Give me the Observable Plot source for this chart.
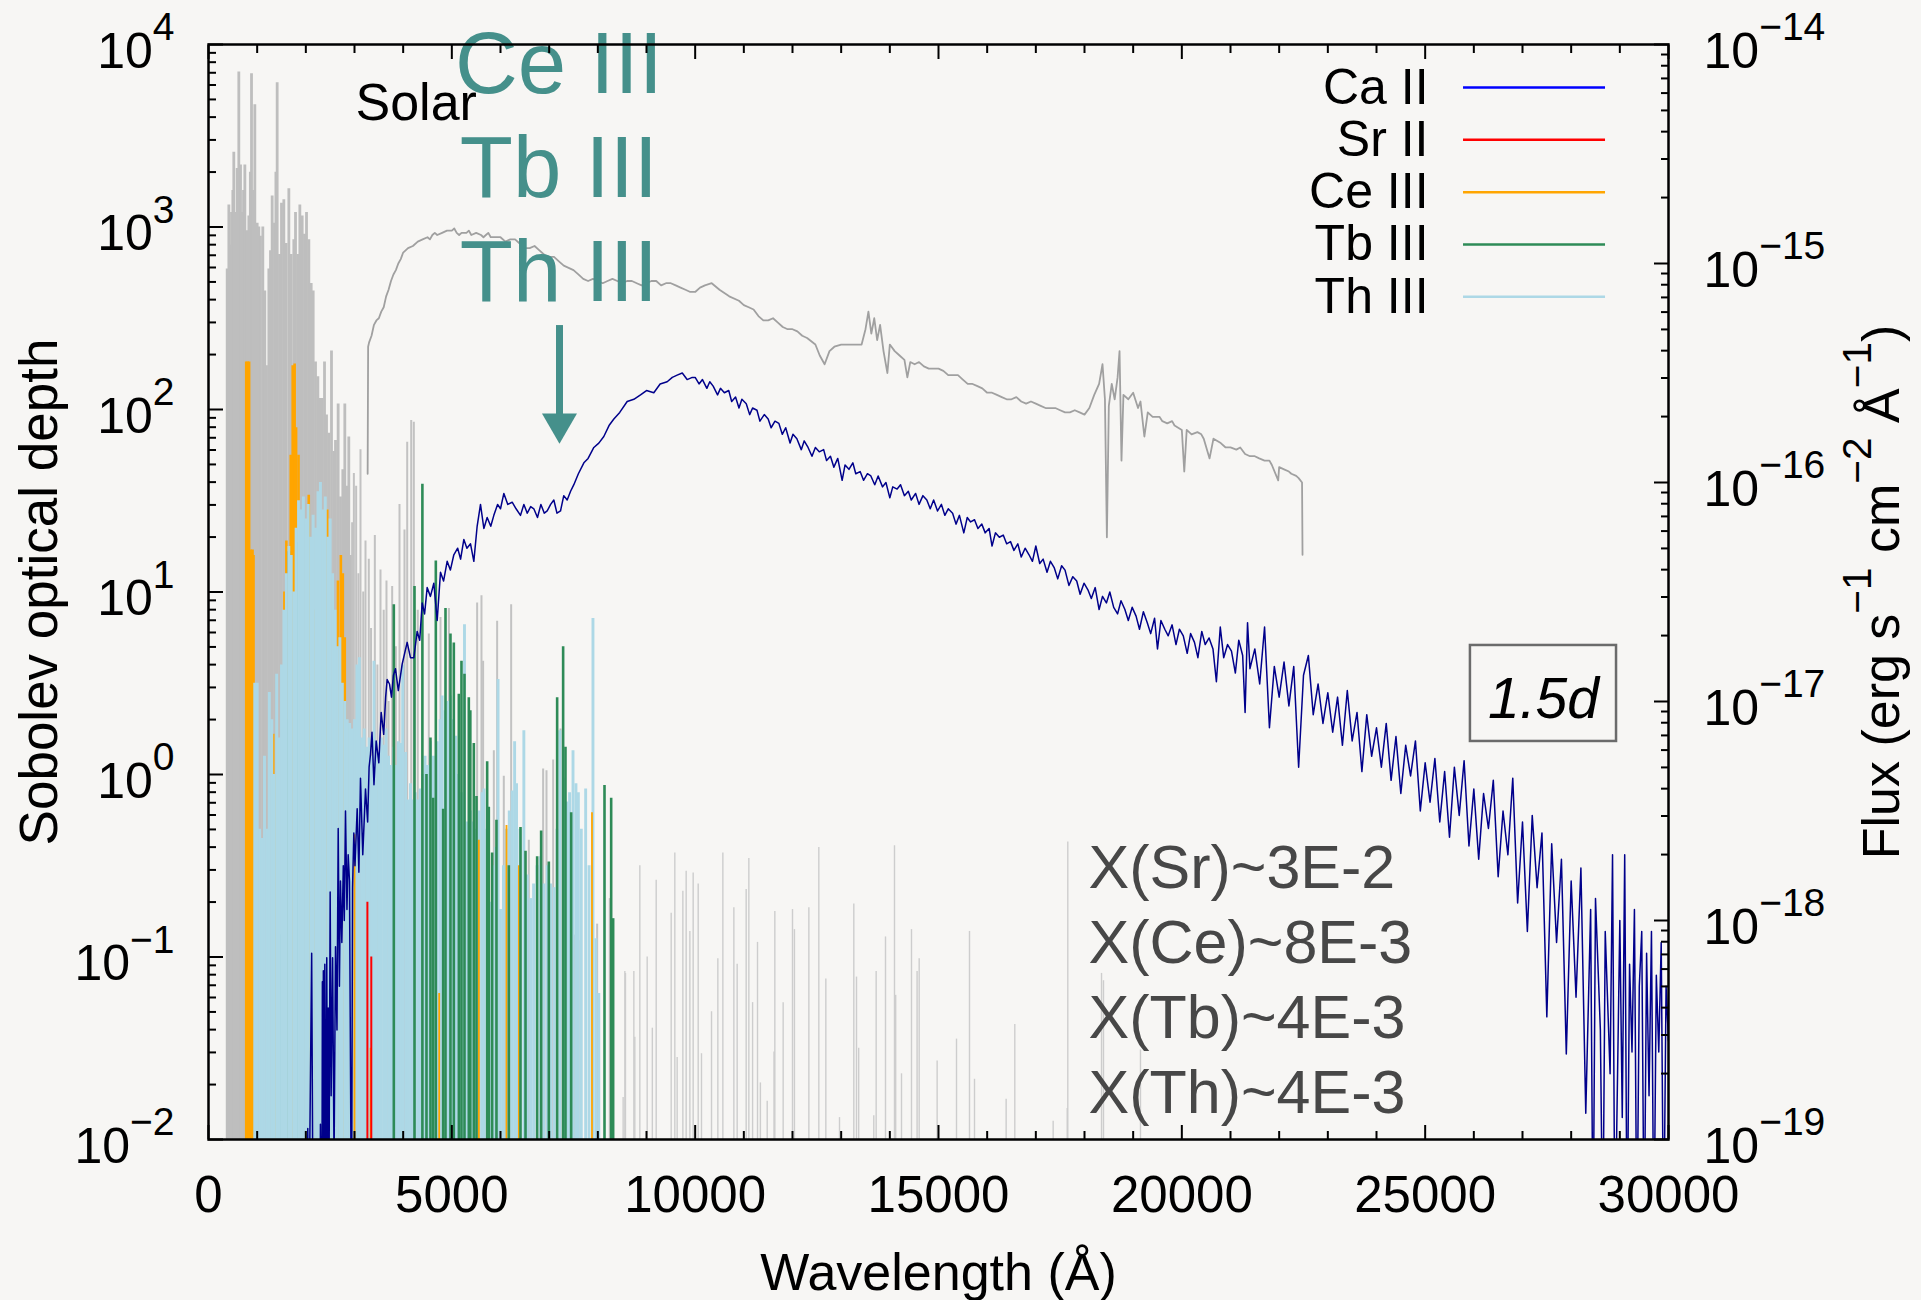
<!DOCTYPE html>
<html><head><meta charset="utf-8">
<script src="https://cdn.jsdelivr.net/npm/d3@7"></script>
<script src="https://cdn.jsdelivr.net/npm/@observablehq/plot@0.6"></script>
<style>
html,body{margin:0;padding:0;background:#f7f6f4;}
#chart{width:1921px;height:1300px;overflow:hidden;}
</style></head><body><div id="chart"></div>
<script>
// ---------- tick values ----------
const xTicksMajor = [0, 5000, 10000, 15000, 20000, 25000, 30000];
const xTicksMinor = d3.range(0, 30001, 1000).filter(d => d % 5000);
const tauExponents = [-2, -1, 0, 1, 2, 3, 4];
const fluxExponents = [-19, -18, -17, -16, -15, -14];

// ---------- Sobolev optical depth lines: [wavelength Å, log10 tau] ----------
const solarDense = [[384,2.77],[418,3.12],[450,2.9],[473,3.08],[500,3.2],[520,3.41],[555,3.08],[589,3.32],[623,3.85],[658,3.34],[692,3.08],[720,3.2],[747,3.34],[795,2.98],[829,3.06],[860,3.3],[884,3.84],[918,3.20],[952,3.67],[1000,3.02],[1034,3.00],[1068,2.95],[1116,3.00],[1157,2.65],[1192,2.24],[1240,2.77],[1274,2.87],[1308,3.17],[1356,3.02],[1385,3.3],[1411,3.79],[1459,2.85],[1500,3.13],[1548,3.15],[1596,2.91],[1651,3.21],[1699,2.85],[1753,2.93],[1788,3.08],[1836,2.85],[1877,3.12],[1925,3.06],[1973,2.96],[2014,3.08],[2062,2.93],[2110,2.69],[2151,2.65],[2199,2.26],[2247,2.18],[2288,2.06],[2336,2.06],[2384,2.26],[2425,1.97],[2473,1.87],[2527,2.32],[2575,1.77],[2610,1.83],[2664,2.03],[2712,1.52],[2760,1.67],[2801,2.03],[2849,1.58],[2883,1.85],[2920,1.2]];
const solarMid = [[2952,1.38],[2987,1.65],[3034,1.58],[3080,1.1],[3123,1.78],[3180,1.0],[3226,1.28],[3294,1.18],[3340,0.8],[3418,1.31],[3470,0.6],[3534,1.12],[3600,0.9],[3657,1.06],[3700,0.4],[3774,1.03],[3850,0.7],[3925,1.48],[4027,1.34],[4083,1.82],[4165,1.94],[4219,1.93],[4300,0.9],[4527,0.77],[4767,0.86],[4940,0.91],[5520,0.94],[5609,0.98],[5643,0.62],[5863,0.13],[5931,0.84],[6068,-0.01],[6219,0.93],[6582,-0.36],[6876,0.03],[6945,0.02],[7082,0.08],[7233,0.25],[7507,-0.88],[7643,-0.91],[7986,-0.82],[8246,-0.68]];
const solarFar = [[8520,-1.77],[8555,-1.08],[8568,-1.09],[8740,-1.08],[8760,-1.44],[8863,-0.50],[9014,-1.00],[9120,-1.39],[9199,-0.58],[9507,-0.76],[9582,-0.43],[9630,-1.55],[9747,-0.64],[9815,-0.53],[9891,-0.86],[9959,-0.54],[10062,-0.60],[10130,-1.53],[10336,-1.30],[10466,-1.01],[10569,-0.43],[10795,-0.73],[10863,-1.04],[11048,-0.63],[11103,-0.46],[11180,-1.25],[11281,-0.92],[11340,-1.69],[11480,-1.79],[11620,-1.52],[11637,-0.75],[11808,-1.25],[12000,-0.74],[12040,-0.85],[12336,-0.73],[12541,-0.40],[12685,-1.12],[12966,-1.88],[13260,-0.71],[13315,-1.11],[13360,-1.50],[13670,-1.87],[13719,-1.08],[13911,-0.89],[14096,-0.39],[14120,-1.21],[14240,-1.64],[14445,-0.85],[14560,-1.08],[14603,-1.01],[14972,-1.57],[15370,-1.45],[15637,-0.86],[15740,-1.67],[16390,-1.78],[16568,-1.37],[17356,-1.90],[17645,-1.83],[17657,-0.37],[18350,-1.09],[18390,-1.13],[19150,-1.51]];
const caLines = [];
const srLines = [[3265,-0.70],[3345,-1.00]];
const ceLines = [[775,2.26],[805,2.26],[835,2.26],[870,1.23],[905,1.23],[925,1.2],[1330,0.22],[1380,0.0],[1440,-0.3],[1560,1.0],[1600,1.28],[1640,1.25],[1690,1.75],[1730,2.24],[1770,2.25],[1800,1.9],[1850,1.75],[1880,1.4],[2060,1.53],[2110,1.15],[2180,0.9],[2230,1.1],[2400,1.3],[2440,1.45],[2480,1.22],[2660,1.06],[2720,1.2],[2760,1.1],[2800,0.75],[3000,-0.33],[3330,-1.5],[4740,-1.2],[5555,-0.36],[6123,-0.28],[6377,-0.5],[7880,-0.21]];
const tbLines = [[1480,-0.88],[1600,0.3],[1650,1.22],[1830,1.27],[2030,1.29],[3808,0.93],[4233,1.03],[4395,1.59],[4479,0.00],[4561,0.20],[4616,-0.13],[4671,1.17],[4822,-0.19],[4870,0.91],[4972,0.77],[5041,0.72],[5144,0.44],[5198,0.62],[5260,0.55],[5349,0.42],[5380,0.35],[5452,0.17],[5507,-0.12],[5726,0.07],[5760,-0.18],[5828,-0.43],[5917,-0.25],[6171,-0.50],[6411,-0.29],[6514,-0.42],[6753,-0.45],[6835,-0.31],[6993,-0.48],[7164,0.42],[7287,0.70],[7335,0.15],[7452,-0.21],[8137,-0.06],[8274,-0.13],[8315,-0.79]];
const thLines = [[950,0.50],[1000,0.50],[1050,-0.30],[1100,-0.35],[1150,0.10],[1200,-0.30],[1250,0.45],[1300,0.30],[1350,0.00],[1400,0.55],[1450,0.20],[1500,0.60],[1550,0.90],[1600,1.10],[1650,1.25],[1700,1.20],[1750,1.00],[1800,1.35],[1850,1.50],[1900,1.45],[1950,1.52],[2000,1.40],[2050,1.48],[2100,1.30],[2150,1.42],[2200,1.35],[2250,1.55],[2300,1.60],[2350,1.45],[2400,1.52],[2450,1.30],[2500,1.40],[2550,1.10],[2600,0.90],[2650,0.70],[2700,0.75],[2750,0.50],[2800,0.40],[2850,0.30],[2900,0.28],[2950,0.25],[3000,0.30],[3050,0.60],[3100,0.64],[3150,0.20],[3200,0.25],[3250,0.15],[3300,0.20],[3350,0.10],[3400,0.62],[3450,0.18],[3500,0.12],[3550,0.20],[3600,0.16],[3650,0.25],[3700,0.10],[3750,0.05],[3800,0.15],[3850,0.05],[3900,0.18],[3950,0.17],[3990,0.60],[4050,0.12],[4100,-0.14],[4150,-0.05],[4200,-0.14],[4250,-0.10],[4300,-0.14],[4350,-0.08],[4400,0.00],[4450,0.10],[4500,0.05],[4560,0.18],[4620,0.10],[4700,0.18],[4760,0.30],[4800,0.43],[4860,0.35],[4920,0.40],[4970,0.43],[5030,0.30],[5080,0.21],[5140,0.00],[5200,-0.10],[5260,0.82],[5320,-0.26],[5380,-0.20],[5440,-0.26],[5500,-0.30],[5560,-0.20],[5620,-0.10],[5660,-0.08],[5720,-0.30],[5790,-0.70],[5850,-0.50],[5900,-0.40],[5950,0.52],[6000,-0.74],[6060,-0.50],[6120,-0.30],[6180,-0.20],[6240,-0.09],[6290,0.18],[6330,-0.05],[6400,-0.30],[6480,0.24],[6550,-0.55],[6620,-0.68],[6680,-0.60],[6750,-0.50],[6820,-0.45],[6890,-0.60],[6960,-0.50],[7030,-0.60],[7100,-0.62],[7160,-0.30],[7220,0.24],[7300,-0.02],[7360,-0.15],[7420,-0.10],[7490,0.13],[7550,-0.05],[7600,-0.10],[7660,-0.30],[7750,-0.08],[7820,-0.50],[7900,0.855],[7960,-0.90],[8020,-1.20]];

// ---------- spectra (right axis): [wavelength Å, log10 flux erg s^-1 cm^-2 Å^-1] ----------
const modelFlux = [[1980,-19.5],[2040,-18.95],[2060,-19.5],[2120,-18.15],[2150,-19.5],[2290,-19.5],[2300,-18.93],[2330,-19.5],[2340,-18.28],[2350,-19.5],[2360,-18.23],[2375,-19.3],[2390,-18.2],[2405,-19.4],[2430,-18.17],[2445,-19.2],[2460,-18.4],[2480,-19.0],[2500,-17.87],[2520,-18.8],[2550,-18.17],[2580,-19.1],[2610,-18.12],[2640,-18.5],[2665,-17.58],[2690,-18.3],[2712,-17.82],[2740,-18.1],[2770,-17.75],[2790,-18.0],[2815,-17.50],[2845,-17.95],[2870,-17.70],[2897,-17.82],[2938,-19.5],[2960,-17.85],[2986,-17.60],[3010,-17.75],[3055,-17.49],[3090,-17.78],[3123,-17.35],[3170,-17.70],[3226,-17.40],[3270,-17.55],[3300,-17.30],[3329,-17.24],[3360,-17.14],[3400,-17.38],[3445,-17.18],[3500,-17.28],[3548,-17.05],[3600,-17.15],[3640,-16.98],[3671,-16.90],[3719,-16.92],[3760,-16.98],[3800,-16.88],[3842,-16.85],[3900,-16.95],[3979,-16.83],
[4082,-16.73],[4150,-16.80],[4219,-16.80],[4288,-16.68],[4340,-16.72],[4391,-16.55],[4440,-16.60],[4493,-16.48],[4560,-16.52],[4630,-16.46],[4699,-16.63],[4767,-16.41],[4830,-16.45],[4904,-16.36],[4970,-16.40],[5041,-16.33],[5120,-16.30],[5180,-16.35],[5247,-16.26],[5310,-16.30],[5384,-16.28],[5452,-16.36],[5520,-16.20],[5589,-16.10],[5658,-16.21],[5726,-16.16],[5800,-16.20],[5863,-16.15],[5940,-16.10],[6000,-16.12],[6069,-16.05],[6150,-16.10],[6240,-16.09],[6320,-16.12],[6411,-16.15],[6480,-16.10],[6550,-16.14],[6620,-16.11],[6685,-16.12],[6760,-16.16],[6830,-16.10],[6900,-16.14],[6959,-16.13],[7030,-16.10],[7096,-16.08],[7160,-16.14],[7233,-16.13],[7300,-16.06],[7370,-16.08],[7440,-16.04],[7507,-16.01],[7600,-15.96],[7713,-15.91],[7800,-15.89],[7918,-15.84],[8020,-15.82],[8123,-15.79],[8230,-15.74],[8329,-15.71],[8450,-15.68],[8603,-15.63],[8740,-15.62],[8877,-15.60],[9000,-15.58],[9150,-15.59],[9280,-15.55],[9425,-15.54],[9530,-15.52],[9630,-15.51],[9735,-15.50],[9835,-15.53],[9940,-15.52],
[10000,-15.52],[10080,-15.55],[10150,-15.53],[10240,-15.57],[10300,-15.54],[10370,-15.56],[10460,-15.60],[10520,-15.57],[10600,-15.59],[10690,-15.58],[10750,-15.63],[10830,-15.61],[10900,-15.66],[10960,-15.62],[11050,-15.64],[11120,-15.69],[11180,-15.66],[11270,-15.67],[11330,-15.72],[11420,-15.69],[11500,-15.71],[11560,-15.75],[11640,-15.72],[11720,-15.73],[11790,-15.78],[11860,-15.75],[11950,-15.82],[12010,-15.78],[12090,-15.80],[12180,-15.85],[12240,-15.81],[12320,-15.84],[12400,-15.88],[12470,-15.84],[12550,-15.86],[12640,-15.85],[12700,-15.90],[12780,-15.88],[12850,-15.93],[12930,-15.89],[13020,-15.99],[13080,-15.92],[13160,-15.94],[13240,-15.91],[13300,-15.96],[13390,-15.95],[13460,-15.99],[13540,-15.96],[13610,-15.97],[13690,-16.01],[13760,-15.97],[13850,-16.02],[13920,-16.00],[14000,-16.07],[14060,-16.02],[14150,-16.03],[14220,-16.01],[14300,-16.06],[14380,-16.04],[14440,-16.08],[14530,-16.05],[14600,-16.10],[14680,-16.06],[14760,-16.08],[14830,-16.12],[14900,-16.08],[14980,-16.13],[15060,-16.10],[15130,-16.15],[15200,-16.12],[15290,-16.14],[15360,-16.19],[15430,-16.15],[15520,-16.23],[15590,-16.16],[15660,-16.18],[15740,-16.17],[15810,-16.21],[15890,-16.19],[15960,-16.23],[16040,-16.21],[16100,-16.29],[16170,-16.23],[16250,-16.25],[16330,-16.24],[16400,-16.28],[16480,-16.27],[16550,-16.31],[16630,-16.28],[16700,-16.34],[16780,-16.30],[16860,-16.33],[16930,-16.36],[17000,-16.29],[17080,-16.37],[17150,-16.35],[17230,-16.41],[17300,-16.36],[17380,-16.39],[17450,-16.44],[17530,-16.38],[17600,-16.40],[17680,-16.47],[17760,-16.43],[17840,-16.45],[17910,-16.51],[17990,-16.46],[18070,-16.49],[18140,-16.53],[18220,-16.48],[18300,-16.58],[18370,-16.52],[18450,-16.55],[18520,-16.50],[18600,-16.57],[18680,-16.60],[18750,-16.54],[18830,-16.58],[18900,-16.63],[18980,-16.57],[19060,-16.61],[19130,-16.67],[19210,-16.59],[19290,-16.64],[19360,-16.69],[19440,-16.62],[19500,-16.76],[19570,-16.63],[19650,-16.67],[19720,-16.70],[19800,-16.65],[19880,-16.74],[19950,-16.67],[20030,-16.70],[20110,-16.78],[20180,-16.69],[20260,-16.73],[20330,-16.80],[20410,-16.68],[20480,-16.74],[20560,-16.71],[20640,-16.76],[20710,-16.91],[20790,-16.66],[20860,-16.80],[20940,-16.74],[21020,-16.77],[21100,-16.87],[21170,-16.72],[21250,-16.79],[21300,-17.05],[21350,-16.64],[21400,-16.85],[21500,-16.76],[21600,-16.92],[21700,-16.66],[21800,-17.12],[21900,-16.84],[22000,-16.98],[22100,-16.82],[22200,-17.02],[22300,-16.84],[22400,-17.30],[22500,-16.88],[22600,-16.79],[22700,-17.06],[22800,-16.92],[22900,-17.10],[23000,-16.96],[23100,-17.14],[23200,-16.98],[23300,-17.20],[23400,-16.95],[23500,-17.18],[23600,-17.05],[23700,-17.32],[23800,-17.06],[23900,-17.25],[24000,-17.12],[24100,-17.30],[24200,-17.10],[24300,-17.36],[24400,-17.16],[24500,-17.42],[24600,-17.20],[24700,-17.34],[24800,-17.18],[24900,-17.50],[25000,-17.28],[25100,-17.46],[25200,-17.26],[25300,-17.55],[25400,-17.32],[25500,-17.62],[25600,-17.30],[25700,-17.52],[25800,-17.27],[25900,-17.66],[26000,-17.40],[26100,-17.72],[26200,-17.42],[26300,-17.58],[26400,-17.36],[26500,-17.80],[26600,-17.50],[26700,-17.70],[26800,-17.35],[26900,-17.92],[27000,-17.55],[27100,-18.05],[27200,-17.52],[27300,-17.85],[27400,-17.60],[27500,-18.44],[27600,-17.65],[27700,-18.10],[27800,-17.72],[27900,-18.61],[28000,-17.82],[28100,-18.35],[28200,-17.76],[28300,-18.88],[28400,-17.95],[28450,-19.5],[28500,-17.90],[28600,-18.50],[28650,-19.5],[28700,-18.05],[28800,-18.70],[28850,-17.70],[28900,-19.5],[29000,-18.00],[29050,-18.90],[29100,-17.70],[29150,-19.5],[29200,-18.20],[29250,-18.60],[29300,-17.95],[29350,-19.5],[29400,-18.30],[29450,-18.05],[29500,-19.5],[29550,-18.15],[29600,-18.80],[29650,-18.05],[29700,-19.5],[29750,-18.25],[29800,-18.60],[29850,-18.10],[29900,-19.5],[29950,-18.30],[30000,-18.55]];

const solarFlux = [[3270,-15.96],[3280,-15.38],[3300,-15.36],[3350,-15.33],[3400,-15.28],[3450,-15.26],[3500,-15.25],[3550,-15.22],[3600,-15.20],[3650,-15.15],[3700,-15.12],[3750,-15.08],[3800,-15.05],[3850,-15.03],[3900,-15.00],[3950,-14.98],[4000,-14.95],[4100,-14.93],[4200,-14.92],[4300,-14.90],[4400,-14.89],[4500,-14.88],[4550,-14.89],[4600,-14.87],[4650,-14.86],[4700,-14.87],[4800,-14.86],[4900,-14.85],[5000,-14.85],[5050,-14.84],[5100,-14.86],[5150,-14.87],[5200,-14.86],[5300,-14.86],[5350,-14.85],[5400,-14.87],[5500,-14.86],[5600,-14.87],[5650,-14.88],[5700,-14.87],[5750,-14.86],[5800,-14.88],[5900,-14.88],[6000,-14.88],[6100,-14.90],[6200,-14.89],[6300,-14.89],[6400,-14.91],[6500,-14.93],[6600,-14.93],[6700,-14.92],[6800,-14.94],[6900,-14.96],[7000,-14.97],[7100,-14.97],[7200,-14.99],[7300,-15.01],[7400,-15.02],[7500,-15.03],[7600,-15.05],[7700,-15.07],[7800,-15.08],[7900,-15.07],[8000,-15.08],[8100,-15.09],[8200,-15.08],[8300,-15.07],[8400,-15.08],[8500,-15.09],[8600,-15.08],[8700,-15.08],[8800,-15.09],[8900,-15.10],[9000,-15.09],[9100,-15.08],[9200,-15.08],[9300,-15.10],[9400,-15.09],[9500,-15.09],[9600,-15.10],[9700,-15.11],[9800,-15.12],[9900,-15.13],[10000,-15.13],[10100,-15.11],[10200,-15.10],[10340,-15.09],[10500,-15.12],[10700,-15.15],[10900,-15.17],[11000,-15.19],[11100,-15.20],[11200,-15.21],[11300,-15.24],[11400,-15.26],[11500,-15.26],[11600,-15.25],[11700,-15.27],[11800,-15.29],[11900,-15.30],[12000,-15.30],[12100,-15.31],[12200,-15.33],[12300,-15.34],[12470,-15.37],[12560,-15.42],[12660,-15.46],[12760,-15.40],[12860,-15.38],[13000,-15.37],[13200,-15.37],[13420,-15.37],[13500,-15.30],[13560,-15.22],[13620,-15.32],[13680,-15.25],[13740,-15.35],[13800,-15.28],[13870,-15.40],[13950,-15.50],[14000,-15.37],[14100,-15.40],[14200,-15.42],[14300,-15.44],[14360,-15.52],[14420,-15.45],[14510,-15.46],[14600,-15.45],[14700,-15.47],[14800,-15.48],[14900,-15.48],[15000,-15.48],[15100,-15.49],[15200,-15.51],[15300,-15.51],[15400,-15.51],[15500,-15.53],[15600,-15.55],[15700,-15.55],[15800,-15.56],[15900,-15.57],[16000,-15.59],[16100,-15.59],[16200,-15.60],[16300,-15.61],[16400,-15.62],[16500,-15.62],[16600,-15.61],[16700,-15.63],[16800,-15.64],[16900,-15.63],[17000,-15.64],[17100,-15.65],[17200,-15.66],[17300,-15.66],[17400,-15.66],[17500,-15.67],[17600,-15.68],[17700,-15.68],[17800,-15.67],[17900,-15.68],[18000,-15.69],[18100,-15.66],[18200,-15.60],[18300,-15.55],[18370,-15.46],[18420,-15.62],[18460,-16.25],[18500,-15.65],[18560,-15.55],[18620,-15.62],[18680,-15.52],[18720,-15.40],[18760,-15.90],[18800,-15.60],[18900,-15.62],[19000,-15.59],[19100,-15.66],[19150,-15.63],[19230,-15.79],[19300,-15.68],[19400,-15.70],[19540,-15.70],[19600,-15.72],[19700,-15.73],[19800,-15.72],[19850,-15.74],[20000,-15.76],[20050,-15.95],[20100,-15.76],[20200,-15.78],[20320,-15.77],[20400,-15.78],[20450,-15.80],[20570,-15.89],[20650,-15.80],[20800,-15.82],[20900,-15.84],[21000,-15.84],[21120,-15.85],[21200,-15.84],[21300,-15.87],[21400,-15.88],[21500,-15.88],[21590,-15.89],[21700,-15.90],[21800,-15.90],[21850,-15.92],[21980,-15.99],[22000,-15.93],[22100,-15.94],[22200,-15.95],[22250,-15.96],[22350,-15.97],[22400,-15.98],[22470,-16.00],[22480,-16.33]];

// ---------- labels ----------
const ions = ["Ca II", "Sr II", "Ce III", "Tb III", "Th III"];
const ionColors = ["#0000ff", "#ff0000", "#ffa500", "#2e8b57", "#add8e6"];
const arrowIons = ["Ce III", "Tb III", "Th III"];
const abundances = ["X(Sr)~3E-2", "X(Ce)~8E-3", "X(Tb)~4E-3", "X(Th)~4E-3"];
const epochLabel = "1.5d";
const solarLabel = "Solar";

// ---------- helpers ----------
// right axis (flux 1e-19..1e-14) shares the vertical extent of the left axis (tau 1e-2..1e4)
const fluxToTau = lf => 10 ** (1.2 * lf + 20.8);
const tauToFluxExp = t => Math.round((Math.log10(t) - 20.8) / 1.2);
const asLines = arr => arr.map(([w, lt]) => ({w, tau: 10 ** lt}));
const asSpec = arr => arr.map(([w, lf]) => ({w, tau: fluxToTau(lf)}));
const fmtExp = e => (e < 0 ? "\u2212" + (-e) : String(e));
const spikes = (arr, stroke, strokeWidth) =>
  Plot.ruleX(asLines(arr), {x: "w", y1: 1e-2, y2: "tau", stroke, strokeWidth});

const tauMajor = tauExponents.map(e => 10 ** e);
const tauMinor = tauExponents.slice(0, -1).flatMap(e => d3.range(2, 10).map(m => m * 10 ** e));
const fluxMajor = fluxExponents.map(e => fluxToTau(e));
const fluxMinor = fluxExponents.slice(0, -1).flatMap(e => d3.range(2, 10).map(m => fluxToTau(e + Math.log10(m))));

const teal = "#45908b";
const none = () => "";
const early = d => d[0] < 3000;
const late = d => d[0] >= 3000;

const plot = Plot.plot({
  width: 1921, height: 1300,
  marginLeft: 208, marginRight: 253, marginTop: 44, marginBottom: 161,
  x: {domain: [0, 30000], label: null},
  y: {type: "log", domain: [1e-2, 1e4], label: null},
  style: {background: "#f7f6f4", fontFamily: "'Liberation Sans', Arial, Helvetica, sans-serif", fontSize: "49px", color: "black"},
  marks: [
    spikes(solarDense, "#bebebe", 2.8),
    spikes(solarMid, "#c2c2c2", 2),
    spikes(solarFar, "#cdcdcd", 1.4),
    spikes(caLines, ionColors[0], 2.4),
    spikes(ceLines.filter(early), ionColors[2], 2.6),
    spikes(tbLines.filter(early), ionColors[3], 2.6),
    spikes(thLines, ionColors[4], 2.9),
    spikes(ceLines.filter(late), ionColors[2], 1.8),
    spikes(tbLines.filter(late), ionColors[3], 2.6),
    spikes(srLines, ionColors[1], 2),
    Plot.line(asSpec(solarFlux), {x: "w", y: "tau", stroke: "#a0a0a0", strokeWidth: 1.8, clip: true}),
    Plot.line(asSpec(modelFlux), {x: "w", y: "tau", stroke: "#00008b", strokeWidth: 1.5, clip: true}),

    // annotations
    Plot.text([solarLabel], {x: 3020, y: 10 ** 3.68, textAnchor: "start", fontSize: 52, fill: "black"}),
    Plot.text(arrowIons, {x: 7200, y: (d, i) => 10 ** [3.885, 3.315, 2.745][i], fontSize: 87, fill: teal}),
    Plot.ruleX([7212], {x: d => d, y1: 10 ** 2.46, y2: 10 ** 1.96, stroke: teal, strokeWidth: 7}),
    Plot.dot([7212], {x: d => d, y: 10 ** 1.923, symbol: "triangle", r: 13, fill: teal, stroke: "none", rotate: 180}),
    Plot.rect([epochLabel], {x1: 25930, x2: 28932, y1: 10 ** 0.181, y2: 10 ** 0.707, fill: "none", stroke: "#6b6b6b", strokeWidth: 2.5}),
    Plot.text([epochLabel], {x: 27430, y: 10 ** 0.411, fontSize: 57, fontStyle: "italic", fill: "black"}),
    Plot.text(abundances, {x: 18082, y: (d, i) => 10 ** (-0.515 - i * 0.411), textAnchor: "start", fontSize: 61, fill: "#474747"}),

    // legend
    Plot.text(ions, {x: 25069, y: (d, i) => 10 ** (3.764 - i * 0.2866), textAnchor: "end", fontSize: 50, fill: "black"}),
    ...ions.map((name, i) => Plot.ruleY([name], {y: () => 10 ** (3.764 - i * 0.2866), x1: 25788, x2: 28706, stroke: ionColors[i], strokeWidth: 2.5})),

    Plot.frame({stroke: "black", strokeWidth: 2.5}),

    // ticks (inward)
    Plot.axisX({anchor: "bottom", ticks: xTicksMajor, tickSize: -14, tickFormat: none, strokeWidth: 2, label: null}),
    Plot.axisX({anchor: "bottom", ticks: xTicksMinor, tickSize: -8, tickFormat: none, strokeWidth: 2, label: null}),
    Plot.axisX({anchor: "top", ticks: xTicksMajor, tickSize: -14, tickFormat: none, strokeWidth: 2, label: null}),
    Plot.axisX({anchor: "top", ticks: xTicksMinor, tickSize: -8, tickFormat: none, strokeWidth: 2, label: null}),
    Plot.axisY({anchor: "left", ticks: tauMajor, tickSize: -15, text: none, strokeWidth: 2, label: null}),
    Plot.axisY({anchor: "left", ticks: tauMinor, tickSize: -8, text: none, strokeWidth: 2, label: null}),
    Plot.axisY({anchor: "right", ticks: fluxMajor, tickSize: -15, text: none, strokeWidth: 2, label: null}),
    Plot.axisY({anchor: "right", ticks: fluxMinor, tickSize: -8, text: none, strokeWidth: 2, label: null}),

    // tick labels
    Plot.axisX({anchor: "bottom", ticks: xTicksMajor, tickSize: 0, tickPadding: 36, tickFormat: d => String(d), fontSize: 51, label: null}),
    Plot.axisY({anchor: "left", ticks: tauMajor, tickSize: 0, tickPadding: 34, dy: 7, fontSize: 50, label: null,
      text: d => `10^{${fmtExp(Math.round(Math.log10(d)))}}`}),
    Plot.axisY({anchor: "right", ticks: fluxMajor, tickSize: 0, tickPadding: 35, dy: 7, fontSize: 50, label: null,
      text: d => `10^{${fmtExp(tauToFluxExp(d))}}`}),

    // axis titles
    Plot.text(["Wavelength (Å)"], {frameAnchor: "bottom", textAnchor: "middle", lineAnchor: "middle", dy: 134, fontSize: 52, fill: "black"}),
    Plot.text(["Sobolev optical depth"], {frameAnchor: "left", textAnchor: "middle", lineAnchor: "middle", dx: -168, rotate: -90, fontSize: 53, fill: "black"}),
    Plot.text(["Flux (erg s^{\u22121} cm^{\u22122} Å^{\u22121})"], {frameAnchor: "right", textAnchor: "middle", lineAnchor: "middle", dx: 214, rotate: -90, fontSize: 52, fill: "black"})
  ]
});

document.getElementById("chart").append(plot);

// superscripts: turn "^{...}" into raised tspans (real text)
(function supify(root) {
  const ns = "http://www.w3.org/2000/svg";
  root.querySelectorAll("text").forEach(t => {
    const s = t.textContent;
    if (!s.includes("^{")) return;
    const fs = parseFloat(getComputedStyle(t).fontSize) || 49;
    const rise = 0.55 * fs, small = 0.78 * fs;
    const parts = s.split(/\^\{([^}]*)\}/);
    while (t.firstChild) t.removeChild(t.firstChild);
    let up = false;
    parts.forEach((p, i) => {
      if (!p) return;
      const ts = document.createElementNS(ns, "tspan");
      ts.textContent = p;
      if (i % 2 === 1) { ts.setAttribute("font-size", small); ts.setAttribute("dy", -rise); up = true; }
      else if (up) { ts.setAttribute("dy", rise); up = false; }
      t.appendChild(ts);
    });
  });
})(plot);
</script></body></html>
